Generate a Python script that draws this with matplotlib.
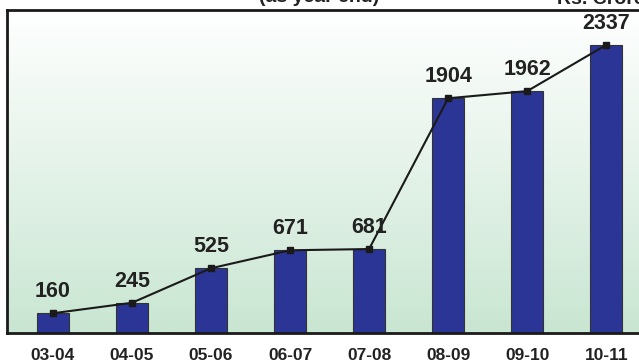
import matplotlib.pyplot as plt
import numpy as np

years = ["03-04", "04-05", "05-06", "06-07", "07-08", "08-09", "09-10", "10-11"]
amounts = [160, 245, 525, 671, 681, 1904, 1962, 2337]

plt.rcParams['font.family'] = ['Liberation Sans', 'DejaVu Sans']

fig = plt.figure(figsize=(6.39, 3.62), dpi=100)
fig.patch.set_facecolor("white")
ax = fig.add_axes([7 / 639, 29 / 362, 638 / 639, 323 / 362])

x = np.arange(len(years))
ax.set_xlim(-0.58, 7.49)
ax.set_ylim(0, 2620)

# vertical gradient: white at the top, pale green at the bottom
grad = np.linspace(0, 1, 256).reshape(-1, 1)
top = np.array([1.0, 1.0, 1.0])
bottom = np.array([0xc9, 0xe6, 0xd2]) / 255
img = bottom + (top - bottom) * grad
ax.imshow(img[:, None, :].repeat(2, axis=1), extent=[-0.58, 7.49, 0, 2620],
          origin="lower", aspect="auto", zorder=0)

ax.bar(x, amounts, width=0.4, color="#2b3595", edgecolor="#333333",
       linewidth=0.8, zorder=2)
ax.plot(x, amounts, color="#1a1a1a", linewidth=1.5, marker="s",
        markersize=5, zorder=3)

for xi, v in zip(x, amounts):
    ax.text(xi, v + 90, str(v), ha="center", va="bottom", fontsize=15.5,
            fontweight="bold", color="#222222", zorder=4)

ax.set_xticks(x)
ax.set_xticklabels(years, fontsize=12.5, fontweight="bold", color="#222222")
ax.tick_params(axis="x", length=0, pad=11)
ax.set_yticks([])
for side in ["left", "top", "bottom", "right"]:
    ax.spines[side].set_linewidth(2)
    ax.spines[side].set_color("#1a1a1a")

fig.text(0.5, 1.0 + 2 / 362, "(as year end)", ha="center", va="center",
         fontsize=14, fontweight="bold", color="#222222")
fig.text(1.0 + 6 / 639, 1.0 + 1 / 362, "Rs. Crore", ha="right", va="center",
         fontsize=14, fontweight="bold", color="#222222")

fig.savefig("out.png", dpi=100)
